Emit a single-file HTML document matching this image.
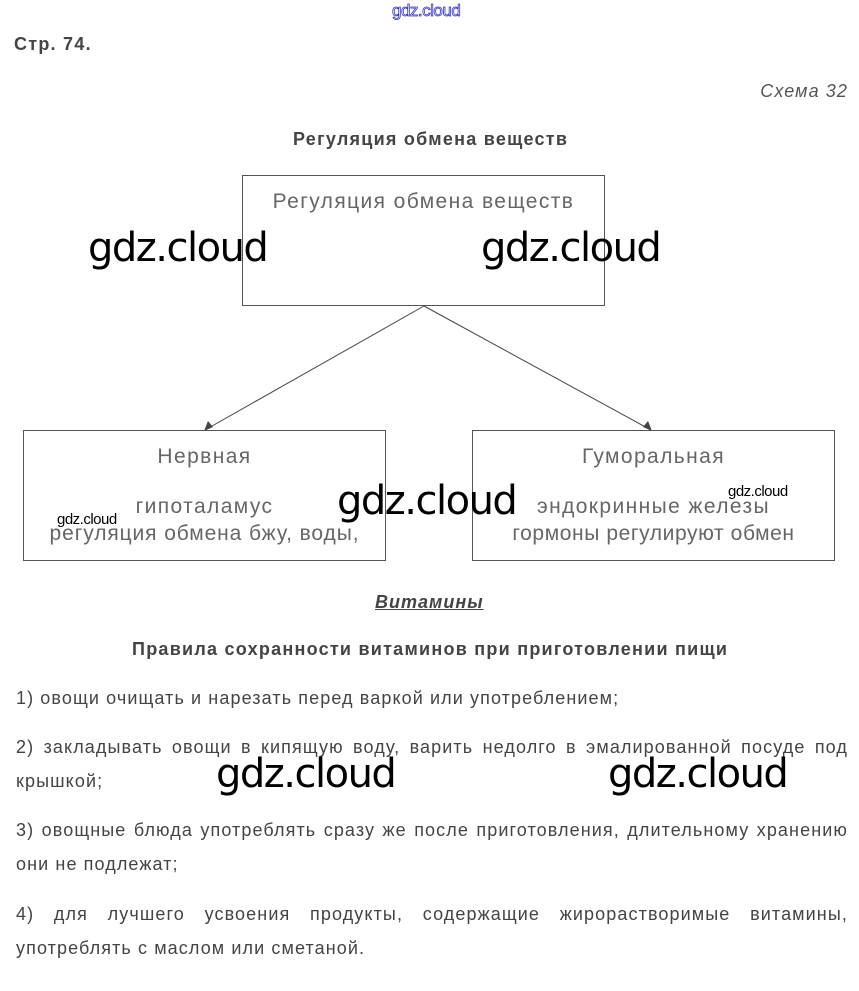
<!DOCTYPE html>
<html><head><meta charset="utf-8"><style>
body{margin:0;width:859px;height:991px;background:#fff;position:relative;overflow:hidden;font-family:"Liberation Sans",sans-serif;color:#444}
.a{position:absolute;white-space:nowrap}
.t{font-size:18px;letter-spacing:1.1px}
.b{font-size:18px;letter-spacing:1.25px;font-weight:bold}
.box{position:absolute;border:1px solid #555;box-sizing:border-box}
.wm{position:absolute;font-family:"DejaVu Sans",sans-serif;color:#000;font-size:40px;letter-spacing:-1.5px;white-space:nowrap}
.j{position:absolute;left:16px;width:832px;text-align:justify;text-align-last:justify;font-size:18px;letter-spacing:1.1px;white-space:nowrap}
.c{text-align:center;color:#666;font-size:21px;letter-spacing:1.4px}
</style></head><body>
<div class="a" style="left:392px;top:1px;font-size:17px;color:#fff;-webkit-text-stroke:0.8px #3333cc;letter-spacing:-0.5px">gdz.cloud</div>
<div class="a b" style="left:14px;top:34px">Стр. 74.</div>
<div class="a t" style="right:11px;top:81px;font-style:italic;color:#555">Схема 32</div>
<div class="a b" style="left:293px;top:129px">Регуляция обмена веществ</div>

<div class="box" style="left:242px;top:175px;width:363px;height:131px"></div>
<div class="a c" style="left:242px;width:363px;top:190px">Регуляция обмена веществ</div>

<svg style="position:absolute;left:0;top:0" width="859" height="991">
<line x1="424" y1="306" x2="205" y2="430" stroke="#444" stroke-width="1"/>
<line x1="424" y1="306" x2="651" y2="430" stroke="#444" stroke-width="1"/>
<polygon points="204,431 208,421 213,427" fill="#444"/>
<polygon points="652,431 643,427 648,421" fill="#444"/>
</svg>

<div class="box" style="left:23px;top:430px;width:363px;height:131px"></div>
<div class="a c" style="left:23px;width:363px;top:445px">Нервная</div>
<div class="a c" style="left:23px;width:363px;top:495px">гипоталамус</div>
<div class="a c" style="left:23px;width:363px;top:522px;letter-spacing:0.9px">регуляция обмена бжу, воды,</div>

<div class="box" style="left:472px;top:430px;width:363px;height:131px"></div>
<div class="a c" style="left:472px;width:363px;top:445px">Гуморальная</div>
<div class="a c" style="left:472px;width:363px;top:495px">эндокринные железы</div>
<div class="a c" style="left:472px;width:363px;top:522px;letter-spacing:0.6px">гормоны регулируют обмен</div>

<div class="a b" style="left:375px;top:592px;font-style:italic;text-decoration:underline;letter-spacing:1px">Витамины</div>
<div class="a b" style="left:132px;top:639px">Правила сохранности витаминов при приготовлении пищи</div>

<div class="a t" style="left:16px;top:688px">1) овощи очищать и нарезать перед варкой или употреблением;</div>
<div class="j" style="top:737px">2) закладывать овощи в кипящую воду, варить недолго в эмалированной посуде под</div>
<div class="a t" style="left:16px;top:771px">крышкой;</div>
<div class="j" style="top:820px">3) овощные блюда употреблять сразу же после приготовления, длительному хранению</div>
<div class="a t" style="left:16px;top:854px">они не подлежат;</div>
<div class="j" style="top:904px">4) для лучшего усвоения продукты, содержащие жирорастворимые витамины,</div>
<div class="a t" style="left:16px;top:938px">употреблять с маслом или сметаной.</div>

<div class="wm" style="left:88px;top:225px">gdz.cloud</div>
<div class="wm" style="left:481px;top:225px">gdz.cloud</div>
<div class="wm" style="left:337px;top:478px">gdz.cloud</div>
<div class="wm" style="left:216px;top:751px">gdz.cloud</div>
<div class="wm" style="left:608px;top:751px">gdz.cloud</div>
<div class="a" style="left:57px;top:511px;font-size:15px;color:#000;letter-spacing:-0.5px">gdz.cloud</div>
<div class="a" style="left:728px;top:483px;font-size:15px;color:#000;letter-spacing:-0.5px">gdz.cloud</div>
</body></html>
